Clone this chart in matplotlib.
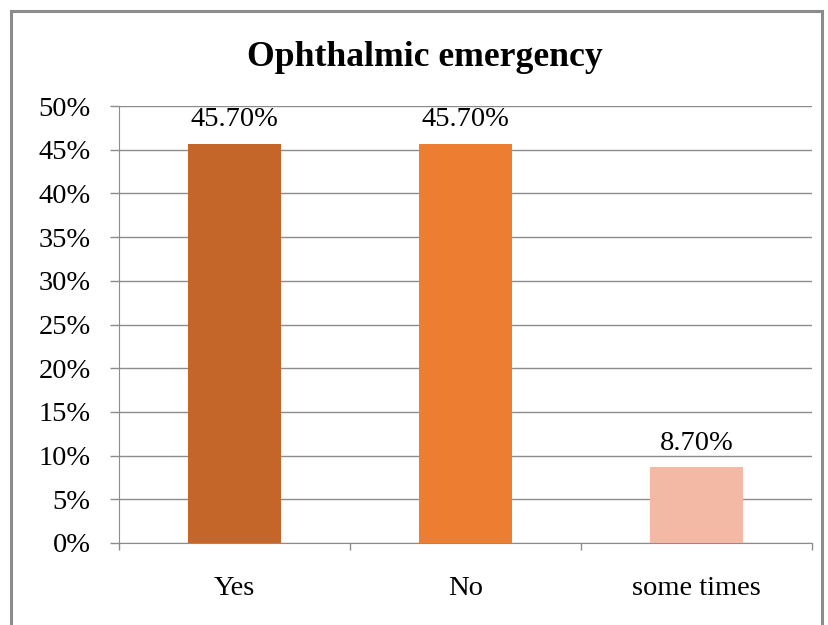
import matplotlib.pyplot as plt
from matplotlib.patches import Rectangle

categories = ["Yes", "No", "some times"]
values = [45.7, 45.7, 8.7]
labels = ["45.70%", "45.70%", "8.70%"]
colors = ["#C4662A", "#ED7D31", "#F4B9A5"]
yticks = [0, 5, 10, 15, 20, 25, 30, 35, 40, 45, 50]

plt.rcParams["font.family"] = ["Liberation Serif", "DejaVu Serif"]

W, H = 829, 625
fig = plt.figure(figsize=(W / 100, H / 100), dpi=100)

# outer frame (bottom runs past the image edge)
fig.patches.append(Rectangle((11 / W, -0.05), (822 - 11) / W, 1.05 - 11 / H,
                             transform=fig.transFigure, fill=False,
                             edgecolor="#8C8C8C", linewidth=2.2))

ax = fig.add_axes([119 / W, 1 - 543 / H, (812 - 119) / W, (543 - 106) / H])
x = range(len(categories))
ax.bar(x, values, width=0.40, color=colors, zorder=3)
for i, (v, lab) in enumerate(zip(values, labels)):
    ax.text(i, v + 1.3, lab, ha="center", va="bottom", fontsize=20.5)

ax.set_xlim(-0.5, 2.5)
ax.set_ylim(0, 50)
ax.set_yticks(yticks)
ax.set_yticklabels([f"{t}%" for t in yticks], fontsize=20.5)
ax.set_xticks([-0.5, 0.5, 1.5, 2.5])
ax.set_xticklabels([])
ax.set_xticks(list(x), minor=True)
ax.set_xticklabels(categories, minor=True, fontsize=20.5)
ax.tick_params(axis="x", which="minor", length=0, pad=24)
ax.tick_params(axis="x", which="major", length=5, color="#8C8C8C", width=1)
ax.tick_params(axis="y", length=6.5, color="#8C8C8C", width=1, pad=14)

ax.grid(axis="y", color="#8C8C8C", linewidth=1, zorder=0)
for side in ["top", "right"]:
    ax.spines[side].set_visible(False)
ax.spines["left"].set_color("#8C8C8C")
ax.spines["bottom"].set_color("#8C8C8C")

fig.text(425 / W, 1 - 57 / H, "Ophthalmic emergency", ha="center", va="center",
         fontsize=25.7, fontweight="bold")

fig.savefig("out.png", dpi=100)
